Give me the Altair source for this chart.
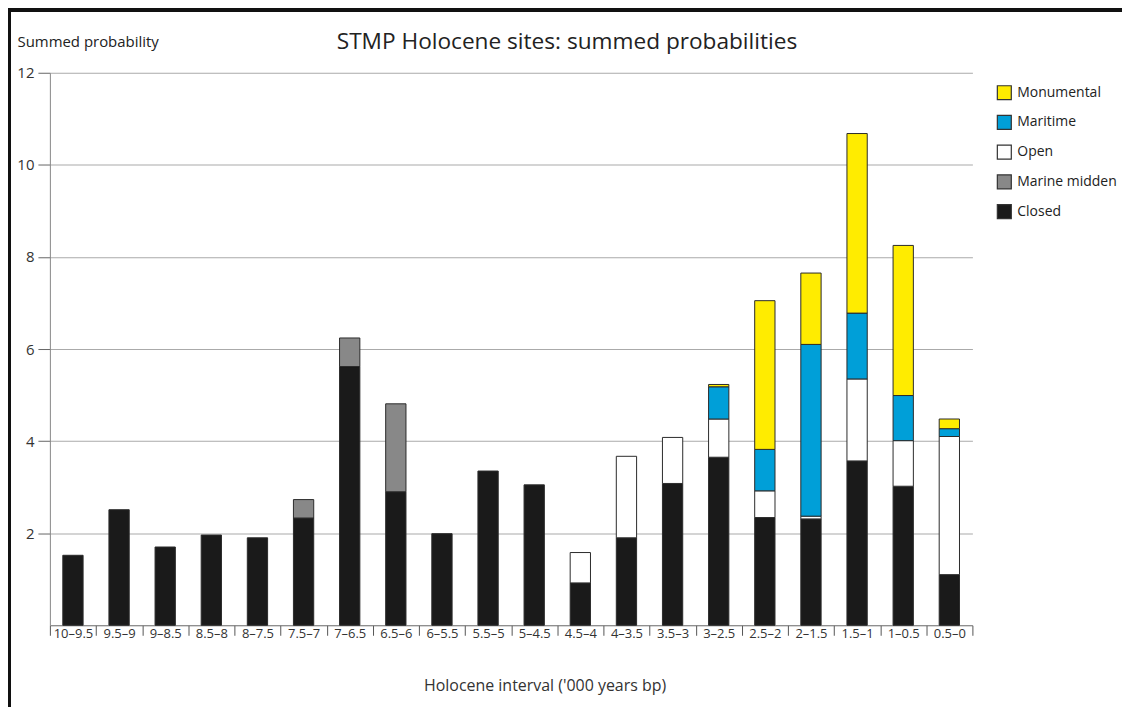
import altair as alt
import pandas as pd

intervals = ["10–9.5", "9.5–9", "9–8.5", "8.5–8", "8–7.5", "7.5–7", "7–6.5", "6.5–6",
             "6–5.5", "5.5–5", "5–4.5", "4.5–4", "4–3.5", "3.5–3", "3–2.5", "2.5–2",
             "2–1.5", "1.5–1", "1–0.5", "0.5–0"]

closed = [1.52, 2.51, 1.70, 1.96, 1.90, 2.33, 5.62, 2.90, 1.99, 3.35,
          3.05, 0.92, 1.90, 3.08, 3.65, 2.34, 2.31, 3.57, 3.02, 1.10]
marine_midden = [0, 0, 0, 0, 0, 0.40, 0.62, 1.91, 0, 0,
                 0, 0, 0, 0, 0, 0, 0, 0, 0, 0]
open_ = [0, 0, 0, 0, 0, 0, 0, 0, 0, 0,
         0, 0.66, 1.77, 1.00, 0.83, 0.58, 0.06, 1.78, 0.99, 3.00]
maritime = [0, 0, 0, 0, 0, 0, 0, 0, 0, 0,
            0, 0, 0, 0, 0.70, 0.90, 3.73, 1.43, 0.98, 0.17]
monumental = [0, 0, 0, 0, 0, 0, 0, 0, 0, 0,
              0, 0, 0, 0, 0.05, 3.23, 1.55, 3.90, 3.26, 0.21]

legend_order = ["Monumental", "Maritime", "Open", "Marine midden", "Closed"]
colors = ["#FFEC00", "#009FD8", "#FFFFFF", "#888888", "#1A1A1A"]
stack_series = [("Closed", closed), ("Marine midden", marine_midden), ("Open", open_),
                ("Maritime", maritime), ("Monumental", monumental)]

rows = []
for si, (name, vals) in enumerate(stack_series):
    for iv, v in zip(intervals, vals):
        if v > 0:
            rows.append({"interval": iv, "type": name, "value": v, "stack": si})
df = pd.DataFrame(rows)

FONT = "Open Sans"

bars = alt.Chart(df).mark_bar(stroke="#2b2b2b", strokeWidth=1,
                              width=alt.RelativeBandSize(0.44)).encode(
    x=alt.X("interval:N", sort=intervals,
            scale=alt.Scale(paddingInner=0, paddingOuter=0),
            axis=alt.Axis(title="Holocene interval ('000 years bp)", labelAngle=0,
                          tickBand="extent", tickSize=10, tickColor="#555555",
                          domainColor="#666666", labelBaseline="top", labelPadding=-8,
                          labelFontSize=13, labelColor="#333333", labelFont=FONT,
                          titleFont=FONT, titleFontSize=16, titleFontWeight="normal",
                          titleColor="#333333", titleX=496, titleY=65,
                          titleAlign="center", titleBaseline="alphabetic", grid=False)),
    y=alt.Y("value:Q", stack="zero",
            scale=alt.Scale(domain=[0, 12], nice=False),
            axis=alt.Axis(title="Summed probability", values=[2, 4, 6, 8, 10, 12],
                          tickSize=12, tickColor="#666666", domainColor="#888888",
                          labelFontSize=15, labelColor="#333333", labelFont=FONT,
                          labelPadding=4, gridColor="#AAAAAA", gridWidth=1.2,
                          titleFont=FONT, titleFontSize=15, titleFontWeight="normal",
                          titleColor="#222222", titleAngle=0, titleX=-33, titleY=-26,
                          titleAlign="left", titleBaseline="alphabetic")),
    color=alt.Color("type:N", scale=alt.Scale(domain=legend_order, range=colors),
                    legend=alt.Legend(title=None, orient="none", legendX=949, legendY=12,
                                      symbolType="square", symbolSize=196,
                                      symbolStrokeColor="#333333", symbolStrokeWidth=1.2,
                                      labelFont=FONT, labelFontSize=14,
                                      labelColor="#222222", rowPadding=9.8,
                                      labelOffset=5)),
    order=alt.Order("stack:Q", sort="ascending"),
)

frame_top = alt.Chart(df).mark_rule(color="#111111", strokeWidth=3).encode(
    x=alt.value(-42), x2=alt.value(1080), y=alt.value(-63))
frame_left = alt.Chart(df).mark_rule(color="#111111", strokeWidth=3).encode(
    x=alt.value(-41), y=alt.value(-64), y2=alt.value(640))

chart = alt.layer(bars, frame_top, frame_left).properties(
    width=925, height=554,
    autosize=alt.AutoSizeParams(type="none"),
    padding={"left": 42, "top": 64, "right": 150, "bottom": 81},
    background="white",
    title=alt.TitleParams("STMP Holocene sites: summed probabilities", font=FONT,
                          fontSize=22.7, fontWeight="normal", color="#222222",
                          anchor="middle", frame="group", dx=56, offset=0,
                          baseline="alphabetic", dy=64),
).configure_view(stroke=None)

chart.save("out.html", embed_options={"renderer": "svg", "actions": False})
